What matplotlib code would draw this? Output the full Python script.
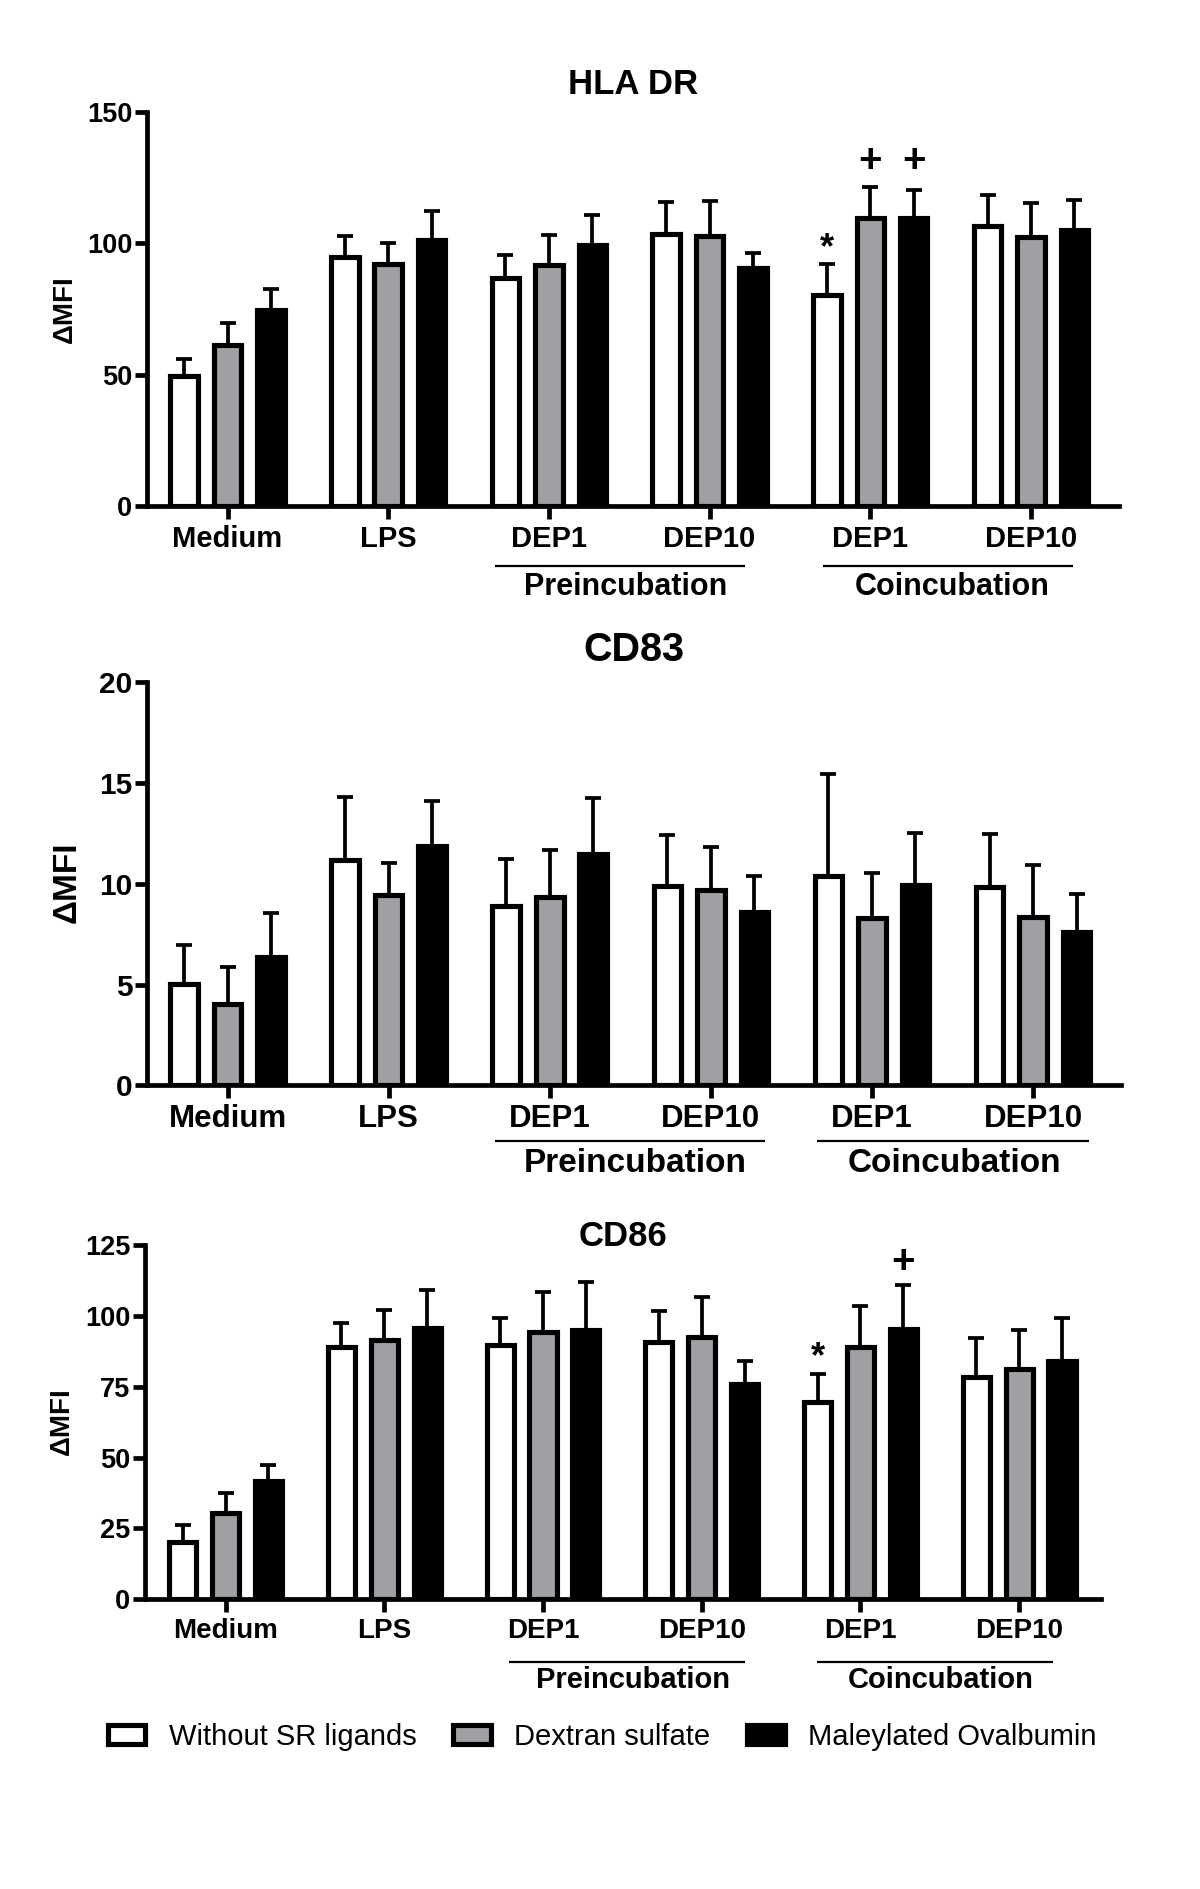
import matplotlib
matplotlib.use('Agg')
import matplotlib.pyplot as plt
import matplotlib.transforms as mtransforms
import numpy as np

plt.rcParams['font.family'] = ['Liberation Sans', 'DejaVu Sans']

# ---------------- data ----------------
groups = ['Medium', 'LPS', 'DEP1', 'DEP10', 'DEP1', 'DEP10']
series_names = ['Without SR ligands', 'Dextran sulfate', 'Maleylated Ovalbumin']

# HLA DR
hla_without = [49.5, 95.0, 86.9, 103.6, 80.5, 106.6]
hla_without_err = [6.4, 7.9, 8.8, 12.1, 11.8, 11.9]
hla_dextran = [61.5, 92.3, 92.0, 102.9, 109.7, 102.5]
hla_dextran_err = [8.4, 8.0, 11.4, 13.4, 11.8, 12.9]
hla_maleyl = [74.7, 101.4, 99.4, 90.7, 109.7, 105.2]
hla_maleyl_err = [8.1, 11.1, 11.5, 5.7, 10.8, 11.5]

# CD83
cd83_without = [5.03, 11.19, 8.88, 9.91, 10.39, 9.82]
cd83_without_err = [1.94, 3.09, 2.34, 2.48, 5.06, 2.62]
cd83_dextran = [4.05, 9.42, 9.33, 9.68, 8.28, 8.37]
cd83_dextran_err = [1.84, 1.62, 2.33, 2.14, 2.25, 2.55]
cd83_maleyl = [6.37, 11.86, 11.49, 8.62, 9.95, 7.61]
cd83_maleyl_err = [2.20, 2.24, 2.78, 1.78, 2.58, 1.89]

# CD86
cd86_without = [20.3, 89.1, 89.7, 90.7, 69.7, 78.3]
cd86_without_err = [5.9, 8.3, 9.4, 11.1, 9.7, 13.8]
cd86_dextran = [30.3, 91.5, 94.4, 92.7, 89.1, 81.3]
cd86_dextran_err = [7.3, 10.6, 13.9, 14.1, 14.4, 13.7]
cd86_maleyl = [41.9, 95.6, 95.0, 76.0, 95.4, 84.2]
cd86_maleyl_err = [5.5, 13.5, 16.8, 8.1, 15.4, 15.2]

# significance marks: (group index, series index, symbol, y)
hla_marks = [(4, 0, '*', 104.5), (4, 1, '+', 131.3), (4, 2, '+', 131.3)]
cd83_marks = []
cd86_marks = [(4, 0, '*', 91.5), (4, 2, '+', 119.1)]

# ---------------- style ----------------
W, H = 1200, 1889
fig = plt.figure(figsize=(W / 100, H / 100), dpi=100)

def fx(px):
    return px / W

def fy(py):
    return 1 - py / H

face_colors = ['white', '#a0a0a4', 'black']
bar_w = 0.171
bar_step = 0.27
PT = 72 / 100  # points per pixel

panels = [
    dict(title='HLA DR', vals=[hla_without, hla_dextran, hla_maleyl],
         errs=[hla_without_err, hla_dextran_err, hla_maleyl_err], marks=hla_marks,
         ymax=150, yticks=[0, 50, 100, 150],
         box=(147, 1119, 112, 506.4), xlim=(-0.501, 5.548),
         title_y=85, title_fs=25, xfs=21, yfs=19.5,
         line_y=566, text_y=587, gfs=22, ylab=(64.5, 309), ylfs=20,
         pre=(1.665, 3.22, 2.48), co=(3.705, 5.26, 4.51)),
    dict(title='CD83', vals=[cd83_without, cd83_dextran, cd83_maleyl],
         errs=[cd83_without_err, cd83_dextran_err, cd83_maleyl_err], marks=cd83_marks,
         ymax=20, yticks=[0, 5, 10, 15, 20],
         box=(147, 1120.5, 682, 1085.4), xlim=(-0.50, 5.543),
         title_y=650, title_fs=28.5, xfs=22.5, yfs=21.5,
         line_y=1141, text_y=1163, gfs=24, ylab=(67, 882), ylfs=24,
         pre=(1.66, 3.336, 2.53), co=(3.66, 5.348, 4.51)),
    dict(title='CD86', vals=[cd86_without, cd86_dextran, cd86_maleyl],
         errs=[cd86_without_err, cd86_dextran_err, cd86_maleyl_err], marks=cd86_marks,
         ymax=125, yticks=[0, 25, 50, 75, 100, 125],
         box=(145, 1101, 1245, 1599.3), xlim=(-0.508, 5.516),
         title_y=1236, title_fs=25, xfs=20, yfs=19.5,
         line_y=1662, text_y=1680, gfs=21, ylab=(62, 1421), ylfs=20,
         pre=(1.786, 3.273, 2.567), co=(3.726, 5.214, 4.507)),
]

legend_handles = None
for p in panels:
    l, r, t, b = p['box']
    ax = fig.add_axes([fx(l), fy(b), fx(r) - fx(l), fy(t) - fy(b)])
    x = np.arange(len(groups))
    handles = []
    for s in range(3):
        xs = x + (s - 1) * bar_step
        bc = ax.bar(xs, p['vals'][s], width=bar_w, color=face_colors[s],
                    edgecolor='black', linewidth=3.7, zorder=3)
        handles.append(bc)
        ax.errorbar(xs, p['vals'][s], yerr=[np.zeros(len(groups)), p['errs'][s]],
                    fmt='none', ecolor='black', elinewidth=2.7, capsize=6,
                    capthick=2.7, zorder=2)
    if legend_handles is None:
        legend_handles = handles
    for g, s, sym, yv in p['marks']:
        xpos = g + (s - 1) * bar_step
        if sym == '*':
            ax.text(xpos, yv, sym, ha='center', va='top', fontsize=26,
                    fontweight='bold', zorder=4)
        else:
            ax.text(xpos, yv, sym, ha='center', va='center', fontsize=29,
                    fontweight='bold', zorder=4)

    ax.set_xlim(*p['xlim'])
    ax.set_ylim(0, p['ymax'])
    ax.set_yticks(p['yticks'])
    ax.set_yticklabels([str(v) for v in p['yticks']], fontsize=p['yfs'], fontweight='bold')
    ax.set_xticks(x)
    ax.set_xticklabels(groups, fontsize=p['xfs'], fontweight='bold')
    for side in ['top', 'right']:
        ax.spines[side].set_visible(False)
    for side in ['left', 'bottom']:
        ax.spines[side].set_linewidth(3.4)
        ax.spines[side].set_capstyle('projecting')
    ax.tick_params(axis='both', direction='out', length=12.5 * PT, width=3.4)
    ax.tick_params(axis='x', pad=4.5)
    ax.tick_params(axis='y', pad=1.5)

    fig.text(fx((l + r) / 2), fy(p['title_y']), p['title'], ha='center', va='center',
             fontsize=p['title_fs'], fontweight='bold')
    fig.text(fx(p['ylab'][0]), fy(p['ylab'][1]), '\u0394MFI', ha='center', va='center',
             rotation=90, fontsize=p['ylfs'], fontweight='bold')
    trans = mtransforms.blended_transform_factory(ax.transData, fig.transFigure)
    for (x0, x1, xt), lab in [(p['pre'], 'Preincubation'), (p['co'], 'Coincubation')]:
        ax.plot([x0, x1], [fy(p['line_y'])] * 2, color='black', lw=1.6,
                transform=trans, clip_on=False, solid_capstyle='butt')
        ax.text(xt, fy(p['text_y']), lab, transform=trans, ha='center', va='center',
                fontsize=p['gfs'], fontweight='bold')

fig.legend(legend_handles, series_names, loc='center left',
           bbox_to_anchor=(fx(107.5), fy(1737)), ncol=3, frameon=False,
           fontsize=21, handlelength=1.3, handleheight=0.62, handletextpad=0.8,
           columnspacing=1.25, borderpad=0, borderaxespad=0)

fig.savefig('out.png', dpi=100)
